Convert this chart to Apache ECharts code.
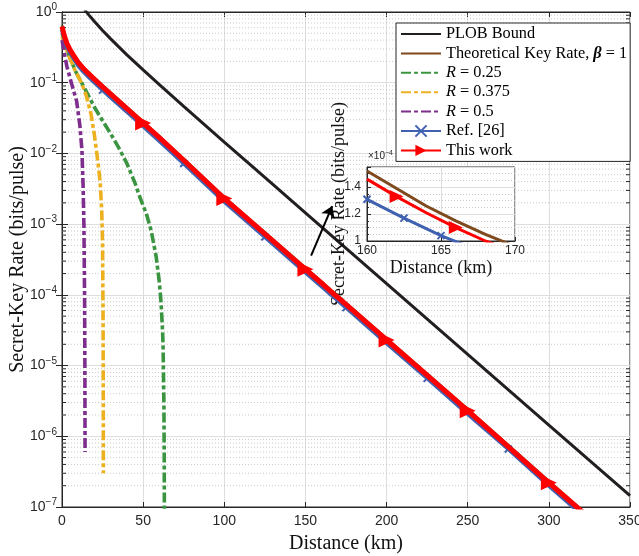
<!DOCTYPE html>
<html lang="en">
<head>
<meta charset="utf-8">
<title>Secret-Key Rate vs Distance</title>
<script src="https://cdn.jsdelivr.net/npm/echarts@6/dist/echarts.min.js"></script>
<style>
    html, body { margin: 0; padding: 0; background: #fff; }
    #main { width: 639px; height: 556px; }
</style>
</head>
<body>
<div id="main"></div>
<script>
    // ---- values ----
    var distPlob = [14, 15, 17.5, 20, 25, 30, 35, 40, 50, 60, 75, 100, 125, 150, 200, 250, 300, 350];
    var ratePlob = [1.074, 1.003, 0.854, 0.732, 0.548, 0.417, 0.321, 0.248, 0.152, 0.094, 0.0463, 0.0145,
        0.00457, 0.001443, 1.443e-4, 1.443e-5, 1.443e-6, 1.443e-7];

    var distKey = [0, 1, 2, 3, 5, 7, 10, 13, 16, 20, 25, 30, 40, 50, 60, 75, 100, 125, 150,
        160, 162, 164, 166, 168, 170, 200, 250, 300, 325];
    var rateThis = [0.62, 0.505, 0.42, 0.36, 0.292, 0.2465, 0.193, 0.1605, 0.1365, 0.1117, 0.0873, 0.0688,
        0.043, 0.0269, 0.0167, 0.008, 0.0023, 7.3e-4, 2.3e-4, 1.46e-4, 1.33e-4, 1.21e-4, 1.1e-4, 1.0e-4,
        9.2e-5, 2.3e-5, 2.3e-6, 2.2e-7, 7e-8];
    var rateTheory = [0.645, 0.525, 0.437, 0.374, 0.304, 0.256, 0.201, 0.167, 0.142, 0.116, 0.0908, 0.0716,
        0.0447, 0.028, 0.01736, 0.00832, 0.00239, 7.6e-4, 2.4e-4, 1.52e-4, 1.39e-4, 1.26e-4, 1.15e-4,
        1.05e-4, 9.6e-5, 2.4e-5, 2.4e-6, 2.3e-7, 7.3e-8];

    var distRef = [0, 1, 2, 3, 5, 7, 10, 13, 16, 20, 25, 30, 40, 50, 60, 75, 100, 125, 150,
        160, 162.5, 165, 167.5, 170, 175, 200, 225, 250, 275, 300, 325];
    var rateRef = [0.56, 0.455, 0.378, 0.324, 0.263, 0.222, 0.174, 0.1445, 0.123, 0.1005, 0.0786, 0.0619,
        0.0387, 0.0242, 0.015, 0.0072, 0.00207, 6.6e-4, 2.07e-4, 1.31e-4, 1.17e-4, 1.04e-4, 9.3e-5, 8.3e-5,
        6.6e-5, 2.07e-5, 6.6e-6, 2.07e-6, 6.6e-7, 2.0e-7, 6.3e-8];

    var distR025 = [0, 2, 5, 9, 15, 20, 25, 30, 35, 40, 45, 48, 52, 55, 58, 60, 61, 62, 62.3, 62.8, 63.0, 63.1];
    var rateR025 = [0.5, 0.36, 0.22, 0.135, 0.075, 0.045, 0.029, 0.019, 0.012, 0.0072, 0.0038, 0.0024,
        0.0014, 8e-4, 3.5e-4, 1.5e-4, 8e-5, 3e-5, 1.8e-5, 3e-6, 5e-7, 5e-8];

    var distR0375 = [0, 2, 5, 8, 12, 15, 18, 20, 22, 23.5, 24.5, 25, 25.3, 25.45, 25.5];
    var rateR0375 = [0.45, 0.33, 0.22, 0.15, 0.1, 0.065, 0.035, 0.018, 0.008, 0.004, 0.0015, 5e-4, 5e-5, 3e-6, 3e-7];

    var distR05 = [0, 1, 3, 6, 9, 11, 12.3, 13, 13.5, 13.9, 14.1, 14.2];
    var rateR05 = [0.4, 0.3, 0.17, 0.095, 0.055, 0.025, 0.011, 0.0035, 0.001, 1e-4, 1e-5, 6e-7];

    // marker positions (km)
    var markThis = [50, 100, 150, 200, 250, 300];
    var markThisInset = [162, 166];
    var markRef = [25, 75, 125, 175, 225, 275];
    var markRefInset = [160, 162.5, 165];

    // arrow pointing at the zoomed inset (km, bits/pulse)
    var arrowFrom = [153.5, 3.6e-4];
    var arrowTo = [166.5, 1.8e-3];

    var xTicks = [0, 350, 50];      // min, max, interval
    var insetX = [160, 170, 5];
    var insetY = [1, 1.55, 0.2];    // x 1e-4

    // minor log ticks 2..9 x 10^k
    var minorTicks = [];
    for (var k = -7; k < 0; k++) {
        for (var m = 2; m <= 9; m++) minorTicks.push(m * Math.pow(10, k));
    }

    var SANS = 'Liberation Sans';
    var SERIF = 'Liberation Serif';
    var INK = '#262626';

    var cBlack = '#231f20', cBrown = '#7e4a1e', cGreen = '#3a9440', cYellow = '#edb120',
        cPurple = '#7e2f8e', cBlue = '#4060b0', cRed = '#ff0000';

    var triRight = 'path://M0,0L10,5L0,10Z';
    var xMark = 'path://M0,0L10,10M10,0L0,10';
    var dashDot = [10, 3, 4, 3];

    function withMarks(dist, rate, marks) {
        return dist.map(function (d, i) {
            if (marks.indexOf(d) >= 0) return [d, rate[i]];
            return { value: [d, rate[i]], symbol: 'none' };
        });
    }
    function plain(dist, rate) {
        return dist.map(function (d, i) { return [d, rate[i]]; });
    }
    function insetData(dist, rate, marks) {
        var out = [];
        dist.forEach(function (d, i) {
            if (d < 159 || d > 171) return;
            var v = rate[i] * 1e4;
            out.push(marks.indexOf(d) >= 0 ? [d, v] : { value: [d, v], symbol: 'none' });
        });
        return out;
    }

    var chart = echarts.init(document.getElementById('main'));

    var noMark = { opacity: 0 };
    var LF = 16.3;

    var option = {
        animation: false,
        backgroundColor: '#fff',
        grid: [
            { left: 62, top: 12, right: 9, bottom: 49, outerBoundsMode: 'none', containLabel: false,
              show: true, borderColor: INK, borderWidth: 1, backgroundColor: 'transparent' },
            { left: 367, top: 167, width: 148, height: 74, outerBoundsMode: 'none', containLabel: false,
              show: true, borderColor: INK, borderWidth: 1, backgroundColor: '#fff', z: 3 }
        ],
        xAxis: [
            {
                gridIndex: 0, type: 'value', min: xTicks[0], max: xTicks[1], interval: xTicks[2],
                name: 'Distance (km)', nameLocation: 'middle', nameGap: 27,
                nameTextStyle: { fontFamily: SERIF, fontSize: 20, color: '#111' },
                axisLine: { show: true, lineStyle: { color: INK } },
                axisTick: { inside: true, length: 5, lineStyle: { color: INK } },
                axisLabel: { fontFamily: SANS, fontSize: 14, color: INK, margin: 7 },
                splitLine: { show: true, lineStyle: { color: '#dedede', width: 1 } }
            },
            {
                gridIndex: 0, type: 'value', position: 'top', min: xTicks[0], max: xTicks[1], interval: xTicks[2],
                axisLine: { show: true, lineStyle: { color: INK } },
                axisTick: { inside: true, length: 5, lineStyle: { color: INK } },
                axisLabel: { show: false }, splitLine: { show: false }
            },
            {
                gridIndex: 1, type: 'value', min: insetX[0], max: insetX[1], interval: insetX[2], z: 4,
                name: 'Distance (km)', nameLocation: 'middle', nameGap: 18, nameMoveOverlap: false,
                nameTextStyle: { fontFamily: SERIF, fontSize: 18, color: '#111' },
                axisLine: { show: true, lineStyle: { color: INK } },
                axisTick: { inside: true, length: 4, lineStyle: { color: INK } },
                axisLabel: { fontFamily: SANS, fontSize: 12, color: INK, margin: 4 },
                splitLine: { show: true, lineStyle: { color: '#dedede' } }
            }
        ],
        yAxis: [
            {
                gridIndex: 0, type: 'log', logBase: 10, min: 1e-7, max: 1,
                name: 'Secret-Key Rate (bits/pulse)', nameLocation: 'middle', nameGap: 34, nameMoveOverlap: false,
                nameTextStyle: { fontFamily: SERIF, fontSize: 20, color: '#111' },
                axisLine: { show: true, lineStyle: { color: INK } },
                axisTick: { inside: true, length: 6, lineStyle: { color: INK } },
                axisLabel: {
                    margin: 5,
                    formatter: function (v) {
                        var e = Math.round(Math.log10(v));
                        return '{b|10}{s|' + (e < 0 ? '\u2212' + (-e) : e) + '}';
                    },
                    rich: {
                        b: { fontFamily: SANS, fontSize: 14, color: INK },
                        s: { fontFamily: SANS, fontSize: 10, color: INK, padding: [0, 0, 9, 0] }
                    }
                },
                splitLine: { show: true, lineStyle: { color: '#dedede', width: 1 } }
            },
            {
                gridIndex: 0, type: 'log', logBase: 10, min: 1e-7, max: 1, position: 'right',
                axisLine: { show: true, lineStyle: { color: INK } },
                axisTick: { inside: true, length: 6, lineStyle: { color: INK } },
                axisLabel: { show: false }, splitLine: { show: false }
            },
            {
                gridIndex: 1, type: 'value', min: insetY[0], max: insetY[1], interval: insetY[2], z: 4,
                name: 'Secret-Key Rate (bits/pulse)', nameLocation: 'middle', nameGap: 19, nameMoveOverlap: false,
                nameTextStyle: { fontFamily: SERIF, fontSize: 18, color: '#111' },
                axisLine: { show: true, lineStyle: { color: INK } },
                axisTick: { inside: true, length: 4, lineStyle: { color: INK } },
                minorTick: { show: true, splitNumber: 4, length: 2, lineStyle: { color: INK } },
                minorSplitLine: { show: true, lineStyle: { color: '#c8c8c8', type: [1, 2] } },
                axisLabel: { fontFamily: SANS, fontSize: 12, color: INK, margin: 6, showMaxLabel: false },
                splitLine: { show: true, lineStyle: { color: '#dedede' } }
            }
        ],
        legend: {
            orient: 'vertical', left: 396, top: 23,
            backgroundColor: '#fff', borderColor: INK, borderWidth: 1, borderRadius: 0,
            padding: [1.5, 3, 1.5, 4], itemWidth: 40, itemHeight: 14, itemGap: 0.4,
            textStyle: {
                fontFamily: SERIF, fontSize: LF, color: '#000', lineHeight: 19,
                rich: {
                    i: { fontFamily: SERIF, fontSize: LF, lineHeight: 19, fontStyle: 'italic', color: '#000' },
                    bi: { fontFamily: SERIF, fontSize: LF, lineHeight: 19, fontStyle: 'italic', fontWeight: 'bold', color: '#000' }
                }
            },
            formatter: function (name) {
                if (name.indexOf('R = ') === 0) return '{i|R}' + name.slice(1);
                if (name.indexOf('\u03b2') >= 0) return name.replace('\u03b2', '{bi|\u03b2}');
                return name;
            },
            data: [
                { name: 'PLOB Bound', itemStyle: noMark },
                { name: 'Theoretical Key Rate, \u03b2 = 1', itemStyle: noMark },
                { name: 'R = 0.25', itemStyle: noMark },
                { name: 'R = 0.375', itemStyle: noMark },
                { name: 'R = 0.5', itemStyle: noMark },
                'Ref. [26]',
                'This work'
            ]
        },
        graphic: [{
            type: 'text', left: 368, top: 150, z: 10,
            style: {
                text: '{a|\u00d710}{b|\u22124}',
                rich: {
                    a: { fontFamily: SANS, fontSize: 10, fill: INK },
                    b: { fontFamily: SANS, fontSize: 7, fill: INK, padding: [0, 0, 6, 0] }
                }
            }
        }],
        series: [
            {
                type: 'custom', xAxisIndex: 0, yAxisIndex: 0, silent: true, z: 1,
                data: minorTicks.map(function (v) { return [0, v]; }),
                renderItem: function (params, api) {
                    var v = api.value(1);
                    var p0 = api.coord([xTicks[0], v]);
                    var p1 = api.coord([xTicks[1], v]);
                    return {
                        type: 'group', children: [
                            { type: 'line', shape: { x1: p0[0], y1: p0[1], x2: p1[0], y2: p1[1] }, style: { stroke: '#bdbdbd', lineWidth: 0.8, lineDash: [1, 2] } },
                            { type: 'line', shape: { x1: p0[0], y1: p0[1], x2: p0[0] + 4, y2: p0[1] }, style: { stroke: INK, lineWidth: 1 } },
                            { type: 'line', shape: { x1: p1[0] - 4, y1: p1[1], x2: p1[0], y2: p1[1] }, style: { stroke: INK, lineWidth: 1 } }
                        ]
                    };
                }
            },
            {
                name: 'PLOB Bound', type: 'line', xAxisIndex: 0, yAxisIndex: 0, symbol: 'none', z: 3,
                data: plain(distPlob, ratePlob), lineStyle: { color: cBlack, width: 3 }, itemStyle: { color: cBlack },
                markLine: {
                    silent: true, symbol: ['none', 'arrow'], symbolSize: 11, label: { show: false },
                    lineStyle: { color: '#000', width: 2, type: 'solid' },
                    data: [[{ coord: arrowFrom }, { coord: arrowTo }]]
                }
            },
            {
                name: 'Theoretical Key Rate, \u03b2 = 1', type: 'line', xAxisIndex: 0, yAxisIndex: 0, symbol: 'none', z: 4,
                data: plain(distKey, rateTheory), lineStyle: { color: cBrown, width: 3 }, itemStyle: { color: cBrown }
            },
            {
                name: 'R = 0.25', type: 'line', xAxisIndex: 0, yAxisIndex: 0, symbol: 'none', z: 4,
                data: plain(distR025, rateR025), lineStyle: { color: cGreen, width: 3.6, type: dashDot }, itemStyle: { color: cGreen }
            },
            {
                name: 'R = 0.375', type: 'line', xAxisIndex: 0, yAxisIndex: 0, symbol: 'none', z: 4,
                data: plain(distR0375, rateR0375), lineStyle: { color: cYellow, width: 3.6, type: dashDot }, itemStyle: { color: cYellow }
            },
            {
                name: 'R = 0.5', type: 'line', xAxisIndex: 0, yAxisIndex: 0, symbol: 'none', z: 4,
                data: plain(distR05, rateR05), lineStyle: { color: cPurple, width: 3.6, type: dashDot }, itemStyle: { color: cPurple }
            },
            {
                name: 'Ref. [26]', type: 'line', xAxisIndex: 0, yAxisIndex: 0, z: 5,
                symbol: xMark, symbolSize: 7, showAllSymbol: true,
                data: withMarks(distRef, rateRef, markRef),
                lineStyle: { color: cBlue, width: 4 },
                itemStyle: { color: cBlue, borderColor: cBlue, borderWidth: 2 }
            },
            {
                name: 'This work', type: 'line', xAxisIndex: 0, yAxisIndex: 0, z: 6,
                symbol: triRight, symbolSize: [16, 15], showAllSymbol: true,
                data: withMarks(distKey, rateThis, markThis),
                lineStyle: { color: cRed, width: 5 },
                itemStyle: { color: cRed }
            },
            // inset
            {
                type: 'line', xAxisIndex: 2, yAxisIndex: 2, symbol: 'none', z: 6,
                data: insetData(distKey, rateTheory, []), lineStyle: { color: cBrown, width: 3 }
            },
            {
                type: 'line', xAxisIndex: 2, yAxisIndex: 2, z: 6,
                symbol: xMark, symbolSize: 7, showAllSymbol: true,
                data: insetData(distRef, rateRef, markRefInset),
                lineStyle: { color: cBlue, width: 3 },
                itemStyle: { color: cBlue, borderColor: cBlue, borderWidth: 2 }
            },
            {
                type: 'line', xAxisIndex: 2, yAxisIndex: 2, z: 7,
                symbol: triRight, symbolSize: [14, 13], showAllSymbol: true,
                data: insetData(distKey, rateThis, markThisInset),
                lineStyle: { color: cRed, width: 3 },
                itemStyle: { color: cRed }
            }
        ]
    };

    chart.setOption(option);
</script>
</body>
</html>
